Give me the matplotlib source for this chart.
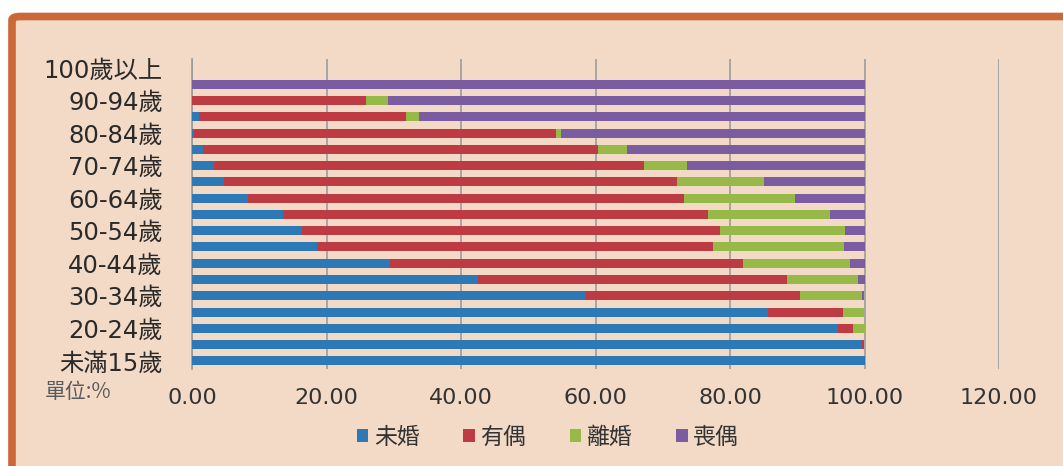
import matplotlib.pyplot as plt
import numpy as np
from matplotlib.patches import FancyBboxPatch

# age groups, bottom to top
ages = ['未滿15歲', '15-19歲', '20-24歲', '25-29歲', '30-34歲', '35-39歲', '40-44歲',
        '45-49歲', '50-54歲', '55-59歲', '60-64歲', '65-69歲', '70-74歲', '75-79歲',
        '80-84歲', '85-89歲', '90-94歲', '95-99歲', '100歲以上']

single   = [100.0, 99.6, 96.1, 85.6, 58.4, 42.6, 29.4, 18.6, 16.3, 13.5, 8.4, 4.8, 3.3, 1.6, 0.3, 1.0, 0.0, 0.0, 0.0]
married  = [0.0, 0.3, 2.2, 11.2, 32.0, 45.9, 52.6, 58.8, 62.2, 63.3, 64.7, 67.3, 63.9, 58.7, 53.9, 30.8, 25.8, 0.0, 0.0]
divorced = [0.0, 0.1, 1.7, 3.1, 9.3, 10.5, 15.8, 19.5, 18.6, 18.1, 16.5, 12.9, 6.4, 4.4, 0.7, 1.9, 3.4, 0.0, 0.0]
widowed  = [0.0, 0.0, 0.0, 0.1, 0.3, 1.0, 2.2, 3.1, 2.9, 5.1, 10.4, 15.0, 26.4, 35.3, 45.1, 66.3, 70.8, 100.0, 0.0]

series_names = ['未婚', '有偶', '離婚', '喪偶']
colors = ['#2D78B6', '#BE3B44', '#96B948', '#7B5CA0']

W, H = 1063, 466
fig = plt.figure(figsize=(W / 100, H / 100), dpi=100)
fig.patch.set_facecolor('white')

# beige panel with orange frame
panel = FancyBboxPatch((12 / W, -0.2), 1.2, 1.2 - 16.5 / H,
                       boxstyle='round,pad=0,rounding_size=0.008',
                       transform=fig.transFigure, facecolor='#F2DAC6',
                       edgecolor='#CC6838', linewidth=5.5, zorder=-5)
fig.patches.append(panel)

ax = fig.add_axes([192 / W, 1 - 369 / H, (999 - 192) / W, (369 - 59) / H])
ax.patch.set_alpha(0)
ax.set_zorder(2)

y = np.arange(len(ages))
left = np.zeros(len(ages))
data = [single, married, divorced, widowed]
for vals, name, c in zip(data, series_names, colors):
    vals = np.array(vals)
    ax.barh(y, vals, left=left, height=0.55, color=c, label=name, zorder=3)
    left += vals

ax.set_xlim(0, 120)
ax.set_ylim(-0.5, 18.55)
ax.set_xticks(np.arange(0, 121, 20))
ax.set_xticklabels([f'{v:.2f}' for v in np.arange(0, 121, 20)],
                   fontsize=16, color='#333333', family=['DejaVu Sans'])
ax.set_yticks(y[::2])
ax.set_yticklabels(ages[::2], fontsize=17.5, color='#2a2a2a',
                   family=['DejaVu Sans', 'Noto Sans CJK TC'])
ax.tick_params(axis='both', length=0)
ax.tick_params(axis='y', pad=21)
ax.tick_params(axis='x', pad=14)

ax.grid(axis='x', color='#9b9b9b', linewidth=1.2, zorder=1)
for s in ['top', 'right', 'bottom']:
    ax.spines[s].set_visible(False)
ax.spines['left'].set_color('#9b9b9b')
ax.spines['left'].set_linewidth(1.2)

fig.text(45 / W, 1 - 392 / H, '單位:%', fontsize=15, color='#5a5a5a',
         family=['Noto Sans CJK TC'], va='center', ha='left')

leg = fig.legend(loc='center', bbox_to_anchor=(548 / W, 1 - 437 / H), ncol=4,
                 frameon=False, handlelength=0.5, handleheight=0.5,
                 handletextpad=0.25, columnspacing=1.9,
                 prop={'family': 'Noto Sans CJK TC', 'size': 16.5})
for t in leg.get_texts():
    t.set_color('#333333')

fig.savefig('out.png', dpi=100)
